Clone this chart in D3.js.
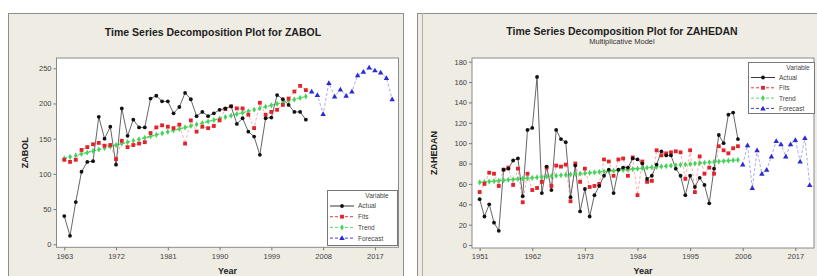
<!DOCTYPE html>
<html>
<head>
<meta charset="utf-8">
<script src="https://cdn.jsdelivr.net/npm/d3@7"></script>
<style>
  body { margin: 0; background: #fff; }
  svg { display: block; font-family: "Liberation Sans", Arial, sans-serif; }
</style>
</head>
<body>
<svg id="chart" width="817" height="276"></svg>
<script>
// ZABOL
const zabolStart = 1963;
const zabolActual = [40, 12, 60, 103, 117, 118, 181, 150, 167, 113, 193, 154, 177, 166, 166,
  207, 211, 203, 203, 186, 195, 215, 206, 182, 188, 182, 186, 191, 193, 196, 171, 179, 160,
  153, 127, 179, 180, 212, 206, 198, 188, 188, 177];
const zabolFits = [120, 117, 120, 134, 138, 142, 144, 140, 141, 121, 147, 138, 141, 143, 145,
  158, 166, 169, 167, 165, 170, 143, 176, 160, 167, 165, 168, 176, 192, 196, 193, 193, 184,
  165, 201, 184, 188, 191, 198, 207, 217, 225, 219];
const zabolTrend = [122, 124.1, 126.2, 128.3, 130.4, 132.5, 134.6, 136.7, 138.8, 140.9, 143,
  145, 147.1, 149.2, 151.3, 153.4, 155.5, 157.6, 159.7, 161.8, 163.9, 166, 168.1, 170.2, 172.3,
  174.4, 176.5, 178.6, 180.7, 182.8, 184.9, 186.9, 189, 191.1, 193.2, 195.3, 197.4, 199.5,
  201.6, 203.7, 205.8, 207.9, 210];
const zabolForecastStart = 2006;
const zabolForecast = [217, 212, 185, 229, 210, 220, 211, 217, 240, 245, 251, 247, 244, 236, 206];
const zabolYTicks = [0, 50, 100, 150, 200, 250];
const zabolXTicks = [1963, 1972, 1981, 1990, 1999, 2008, 2017];

// ZAHEDAN
const zahedanStart = 1951;
const zahedanActual = [45, 28, 40, 22, 14, 74, 75, 83, 85,
  48, 113, 115, 165, 51, 77, 54, 113, 104, 101,
  47, 78, 33, 55, 28, 49, 58, 68, 74, 51,
  74, 76, 76, 85, 84, 80, 65, 68, 79, 92,
  88, 88, 75, 68, 49, 68, 57, 66, 59, 41,
  75, 108, 100, 128, 130, 104];
const zahedanFits = [52, 60, 71, 70, 58, 74, 76, 59, 75,
  42, 70, 54, 56, 62, 76, 58, 78, 77, 79,
  43, 80, 62, 75, 57, 58, 60, 84, 82, 68,
  84, 85, 68, 86, 49, 82, 62, 63, 93, 88,
  90, 91, 92, 91, 65, 93, 52, 87, 70, 76,
  70, 97, 93, 90, 95, 97];
const zahedanTrend = [61.5, 61.9, 62.3, 62.7, 63.1, 63.5, 64, 64.4, 64.8, 65.2, 65.6, 66, 66.4,
  66.8, 67.2, 67.7, 68.1, 68.5, 68.9, 69.3, 69.7, 70.1, 70.5, 70.9, 71.3, 71.8, 72.2, 72.6, 73,
  73.4, 73.8, 74.2, 74.6, 75, 75.4, 75.9, 76.3, 76.7, 77.1, 77.5, 77.9, 78.3, 78.7, 79.1, 79.5,
  80, 80.4, 80.8, 81.2, 81.6, 82, 82.4, 82.8, 83.2, 83.6];
const zahedanForecastStart = 2006;
const zahedanForecast = [79, 98, 56, 93, 70, 74, 87, 102, 99, 87, 99, 103, 82, 105, 59];
const zahedanYTicks = [0, 20, 40, 60, 80, 100, 120, 140, 160, 180];
const zahedanXTicks = [1951, 1962, 1973, 1984, 1995, 2006, 2017];

const legendNames = ["Actual", "Fits", "Trend", "Forecast"];

const colors = { actual: "#111", fits: "#e3232b", trend: "#45d35a", forecast: "#2b2bd6" };

const svg = d3.select("#chart");

function series(start, values) {
  return values.map((v, i) => [start + i, v]);
}

function marker(g, kind, x, y) {
  if (kind === "actual") {
    g.append("circle").attr("cx", x).attr("cy", y).attr("r", 1.9).attr("fill", colors.actual);
  } else if (kind === "fits") {
    g.append("rect").attr("x", x - 1.9).attr("y", y - 1.9).attr("width", 3.8).attr("height", 3.8)
      .attr("fill", colors.fits);
  } else if (kind === "trend") {
    g.append("path").attr("d", d3.symbol(d3.symbolDiamond, 11)()).attr("transform", `translate(${x},${y})`)
      .attr("fill", colors.trend);
  } else {
    g.append("path").attr("d", d3.symbol(d3.symbolTriangle, 13)()).attr("transform", `translate(${x},${y + 0.4})`)
      .attr("fill", colors.forecast);
  }
}

function drawPanel(cfg) {
  const g = svg.append("g");
  const f = cfg.frame;

  g.append("rect").attr("x", f.x + 0.5).attr("y", f.y + 0.5).attr("width", f.w).attr("height", f.h)
    .attr("fill", "#efece4").attr("stroke", "#8f8f8f");
  if (cfg.doubleBorder) {
    g.append("line").attr("x1", f.x + 5.5).attr("x2", f.x + 5.5).attr("y1", f.y).attr("y2", f.y + f.h)
      .attr("stroke", "#b0ada5");
  }

  const p = cfg.plot;
  const x = d3.scaleLinear().domain(cfg.xDomain).range([p.x0, p.x1]);
  const y = d3.scaleLinear().domain(cfg.yDomain).range([p.y1, p.y0]);

  g.append("rect").attr("x", p.x0).attr("y", p.y0).attr("width", p.x1 - p.x0).attr("height", p.y1 - p.y0)
    .attr("fill", "#fff").attr("stroke", "#8a8a8a").attr("stroke-width", 1);

  const yAxis = g.append("g").attr("transform", `translate(${p.x0},0)`)
    .call(d3.axisLeft(y).tickValues(cfg.yTicks).tickSize(3).tickPadding(2).tickFormat(d3.format("d")));
  const xAxis = g.append("g").attr("transform", `translate(0,${p.y1})`)
    .call(d3.axisBottom(x).tickValues(cfg.xTicks).tickSize(3).tickPadding(3).tickFormat(d => d));
  [yAxis, xAxis].forEach(a => {
    a.select(".domain").remove();
    a.selectAll("line").attr("stroke", "#777");
    a.selectAll("text").attr("font-size", 7.5).attr("fill", "#444").attr("font-family", null);
  });

  g.append("text").attr("x", f.x + 205).attr("y", cfg.titleY).attr("text-anchor", "middle")
    .attr("font-size", 10.5).attr("font-weight", "bold").attr("fill", "#222").text(cfg.title);
  if (cfg.subtitle) {
    g.append("text").attr("x", f.x + 205).attr("y", cfg.titleY + 9).attr("text-anchor", "middle")
      .attr("font-size", 7.5).attr("fill", "#333").text(cfg.subtitle);
  }
  g.append("text").attr("x", (p.x0 + p.x1) / 2).attr("y", 274).attr("text-anchor", "middle")
    .attr("font-size", 9).attr("font-weight", "bold").attr("fill", "#222").text("Year");
  g.append("text").attr("transform", `translate(${f.x + 20},${(p.y0 + p.y1) / 2}) rotate(-90)`)
    .attr("text-anchor", "middle").attr("font-size", 9).attr("font-weight", "bold").attr("fill", "#222")
    .text(cfg.yLabel);

  const line = d3.line().x(d => x(d[0])).y(d => y(d[1]));
  const actual = series(cfg.start, cfg.actual);
  const fits = series(cfg.start, cfg.fits);
  const trend = series(cfg.start, cfg.trend);
  const forecast = series(cfg.forecastStart, cfg.forecast);

  const marks = g.append("g");
  marks.append("path").datum(trend).attr("d", line).attr("fill", "none")
    .attr("stroke", colors.trend).attr("stroke-width", 1.2).attr("stroke-dasharray", "3,2");
  marks.append("path").datum(fits).attr("d", line).attr("fill", "none")
    .attr("stroke", colors.fits).attr("stroke-opacity", 0.45).attr("stroke-width", 0.8).attr("stroke-dasharray", "3,2");
  marks.append("path").datum(actual).attr("d", line).attr("fill", "none")
    .attr("stroke", "#555").attr("stroke-width", 0.9);
  marks.append("path").datum(forecast).attr("d", line).attr("fill", "none")
    .attr("stroke", colors.forecast).attr("stroke-opacity", 0.5).attr("stroke-width", 0.8).attr("stroke-dasharray", "3,2");

  trend.forEach(d => marker(marks, "trend", x(d[0]), y(d[1])));
  fits.forEach(d => marker(marks, "fits", x(d[0]), y(d[1])));
  actual.forEach(d => marker(marks, "actual", x(d[0]), y(d[1])));
  forecast.forEach(d => marker(marks, "forecast", x(d[0]), y(d[1])));

  // legend
  const L = cfg.legend;
  const lg = g.append("g");
  lg.append("rect").attr("x", L.x + 0.5).attr("y", L.y + 0.5).attr("width", L.w).attr("height", L.h)
    .attr("fill", "#fff").attr("stroke", "#777").attr("stroke-width", 1);
  lg.append("text").attr("x", L.x + 50).attr("y", L.y + 8).attr("text-anchor", "middle")
    .attr("font-size", 6.5).attr("fill", "#444").text("Variable");
  const kinds = ["actual", "fits", "trend", "forecast"];
  legendNames.forEach((name, i) => {
    const ry = L.y + L.first + i * L.gap;
    const k = kinds[i];
    lg.append("line").attr("x1", L.x + 3).attr("x2", L.x + 27).attr("y1", ry).attr("y2", ry)
      .attr("stroke", k === "actual" ? "#222" : colors[k]).attr("stroke-width", 0.9)
      .attr("stroke-dasharray", k === "actual" ? null : "3,2");
    marker(lg, k, L.x + 15, ry);
    lg.append("text").attr("x", L.x + 31).attr("y", ry + 2.4).attr("font-size", 6.5).attr("fill", "#444").text(name);
  });
}

drawPanel({
  frame: { x: 8, y: 13, w: 395, h: 300 },
  plot: { x0: 56.5, x1: 398.5, y0: 58, y1: 247.3 },
  xDomain: [1961.65, 2021.1], yDomain: [-4.3, 264.6],
  xTicks: zabolXTicks, yTicks: zabolYTicks,
  title: "Time Series Decomposition Plot for ZABOL", titleY: 36,
  yLabel: "ZABOL",
  start: zabolStart, actual: zabolActual, fits: zabolFits, trend: zabolTrend,
  forecastStart: zabolForecastStart, forecast: zabolForecast,
  legend: { x: 327, y: 190, w: 70, h: 55, first: 16, gap: 10.7 }
});

drawPanel({
  frame: { x: 417, y: 13, w: 420, h: 300 }, doubleBorder: true,
  plot: { x0: 472, x1: 814, y0: 58, y1: 248 },
  xDomain: [1949.4, 2020.9], yDomain: [-2.9, 183.6],
  xTicks: zahedanXTicks, yTicks: zahedanYTicks,
  title: "Time Series Decomposition Plot for ZAHEDAN", subtitle: "Multiplicative Model", titleY: 35,
  yLabel: "ZAHEDAN",
  start: zahedanStart, actual: zahedanActual, fits: zahedanFits, trend: zahedanTrend,
  forecastStart: zahedanForecastStart, forecast: zahedanForecast,
  legend: { x: 748, y: 62, w: 66, h: 51, first: 15.5, gap: 10.3 }
});
</script>
</body>
</html>
